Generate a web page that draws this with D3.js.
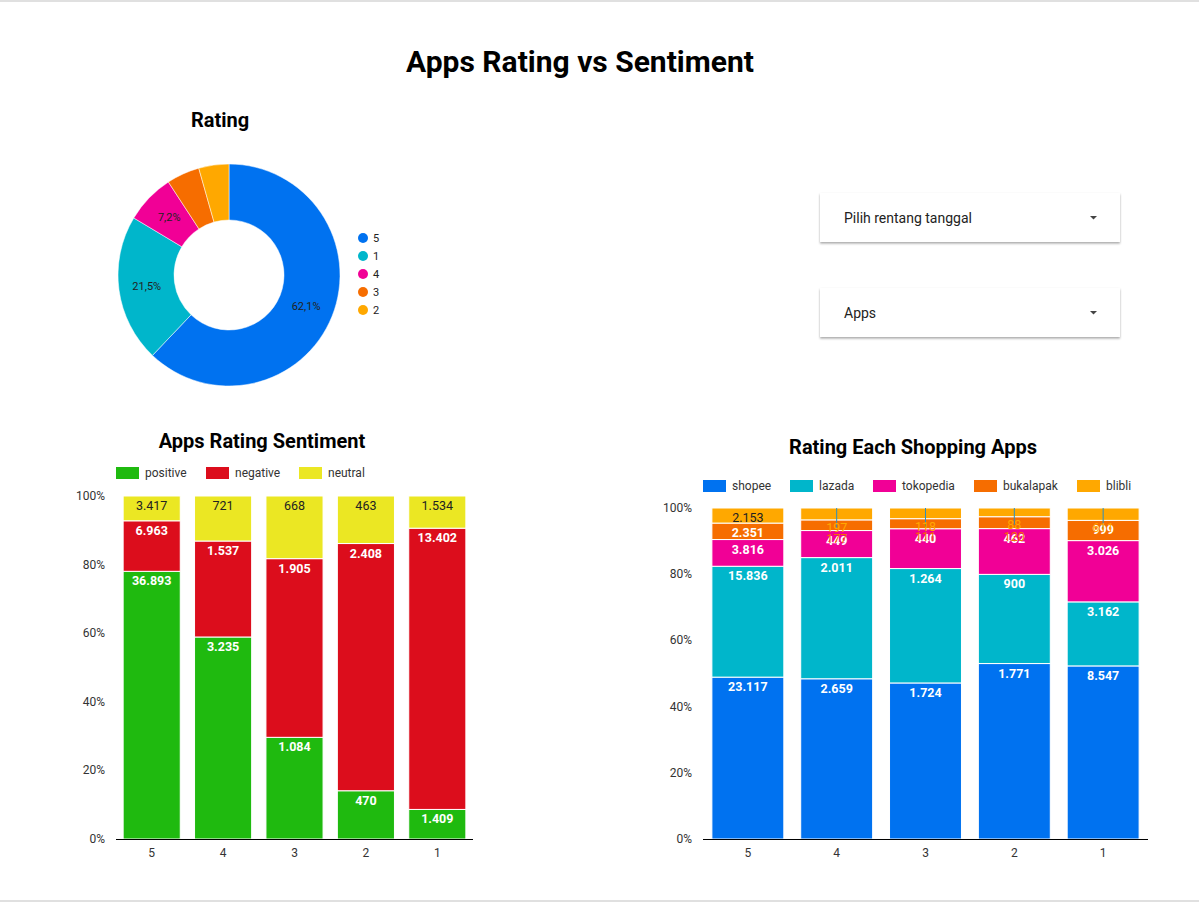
<!DOCTYPE html>
<html>
<head>
<meta charset="utf-8">
<script src="https://cdn.jsdelivr.net/npm/d3@7"></script>
<style>
  body { margin: 0; background: #fff; font-family: Roboto, "Noto Sans", sans-serif; }
  svg { display: block; }
</style>
</head>
<body>
<svg id="chart" width="1199" height="903"></svg>
<script>
// ratings on the x axis
const ratings = ["5", "4", "3", "2", "1"]

// donut (order as drawn)
const donutLabels = ["5", "1", "4", "3", "2"]
const donutValues = [47273, 16345, 5493, 3657, 3341]

// sentiment per rating
const sentimentKeys = ["positive", "negative", "neutral"]
const positive = [36893, 3235, 1084, 470, 1409]
const negative = [6963, 1537, 1905, 2408, 13402]
const neutral = [3417, 721, 668, 463, 1534]

// apps per rating
const appKeys = ["shopee", "lazada", "tokopedia", "bukalapak", "blibli"]
const shopee = [23117, 2659, 1724, 1771, 8547]
const lazada = [15836, 2011, 1264, 900, 3162]
const tokopedia = [3816, 449, 440, 462, 3026]
const bukalapak = [2351, 177, 111, 120, 999]
const blibli = [2153, 197, 118, 88, 611]

const pctTicks = [0, 0.2, 0.4, 0.6, 0.8, 1]

const svg = d3.select("#chart")
const loc = d3.formatLocale({decimal: ",", thousands: ".", grouping: [3], currency: ["", ""]})
const fmt = loc.format(",d")
const pctFmt = loc.format(".1%")

// page border lines
svg.append("rect").attr("x", 0).attr("y", 0).attr("width", 1199).attr("height", 2).attr("fill", "#e0e0e0")
svg.append("rect").attr("x", 0).attr("y", 900).attr("width", 1199).attr("height", 2).attr("fill", "#e0e0e0")

// main title
svg.append("text")
	.attr("x", 580).attr("y", 72)
	.attr("text-anchor", "middle")
	.attr("font-size", "30px").attr("font-weight", "bold")
	.attr("fill", "#000")
	.text("Apps Rating vs Sentiment")

// ---------- donut ----------
const donutColors = ["#0072f0", "#00b6cb", "#f10096", "#f66d00", "#ffa800"]
svg.append("text")
	.attr("x", 220).attr("y", 127)
	.attr("text-anchor", "middle")
	.attr("font-size", "20px").attr("font-weight", "bold")
	.text("Rating")

const outerR = 111, innerR = 55
const pie = d3.pie().sort(null)(donutValues)
const arc = d3.arc().innerRadius(innerR).outerRadius(outerR)
const labelArc = d3.arc().innerRadius(83).outerRadius(83)
const total = d3.sum(donutValues)

const dg = svg.append("g").attr("transform", "translate(229,275)")
dg.selectAll("path")
	.data(pie)
	.enter()
	.append("path")
	.attr("d", arc)
	.attr("fill", function(d, i){return donutColors[i]})
	.attr("stroke", "#fff").attr("stroke-width", 0.5)

dg.selectAll("text")
	.data(pie.filter(function(d){return d.value / total > 0.06}))
	.enter()
	.append("text")
	.attr("transform", function(d){
		const c = labelArc.centroid(d)
		return "translate(" + c[0] + "," + (c[1] + 4) + ")"
	})
	.attr("text-anchor", "middle")
	.attr("font-size", "11px")
	.attr("fill", "#222")
	.text(function(d){return pctFmt(d.value / total)})

const dl = svg.append("g").attr("transform", "translate(363,238)")
donutLabels.forEach(function(l, i){
	dl.append("circle").attr("cx", 0).attr("cy", i * 18).attr("r", 5).attr("fill", donutColors[i])
	dl.append("text").attr("x", 10).attr("y", i * 18 + 4).attr("font-size", "11px").attr("fill", "#222").text(l)
})

// ---------- dropdowns ----------
const dropdowns = [{label: "Pilih rentang tanggal", y: 193}, {label: "Apps", y: 288}]
const defs = svg.append("defs")
const f = defs.append("filter").attr("id", "shadow").attr("x", "-5%").attr("y", "-10%").attr("width", "110%").attr("height", "130%")
f.append("feDropShadow").attr("dx", 0).attr("dy", 1.5).attr("stdDeviation", 1.2).attr("flood-color", "#000").attr("flood-opacity", 0.35)
dropdowns.forEach(function(d){
	svg.append("rect").attr("x", 820).attr("y", d.y).attr("width", 300).attr("height", 49)
		.attr("fill", "#fff").attr("filter", "url(#shadow)")
	svg.append("text").attr("x", 844).attr("y", d.y + 30).attr("font-size", "14px").attr("fill", "#222").text(d.label)
	svg.append("path").attr("d", "M1090," + (d.y + 23) + "l3.5,3.5l3.5,-3.5z").attr("fill", "#444")
})

// ---------- stacked 100% bar helper ----------
function stackedChart(opts) {
	const g = svg.append("g")
	const x = d3.scaleBand().domain(ratings).range([opts.x0, opts.x1]).paddingInner(opts.padIn).paddingOuter(opts.padOut)
	const y = d3.scaleLinear().domain([0, 1]).range([opts.yBottom, opts.yTop])

	g.append("text")
		.attr("x", opts.titleX).attr("y", opts.titleY)
		.attr("text-anchor", "middle")
		.attr("font-size", "20px").attr("font-weight", "bold")
		.text(opts.title)

	// legend
	opts.keys.forEach(function(k, i){
		g.append("rect").attr("x", opts.legendX[i]).attr("y", opts.legendY - 6).attr("width", 23).attr("height", 12).attr("fill", opts.colors[i])
		g.append("text").attr("x", opts.legendX[i] + 29).attr("y", opts.legendY + 4).attr("font-size", "12px").attr("fill", "#333").text(k)
	})

	const rows = ratings.map(function(r, i){
		const row = {rating: r}
		opts.keys.forEach(function(k, j){ row[k] = opts.series[j][i] })
		return row
	})
	const stacked = d3.stack().keys(opts.keys).offset(d3.stackOffsetExpand)(rows)

	stacked.forEach(function(layer, j){
		g.selectAll(null)
			.data(layer)
			.enter()
			.append("rect")
			.attr("x", function(d){return x(d.data.rating)})
			.attr("width", x.bandwidth())
			.attr("y", function(d){return y(d[1])})
			.attr("height", function(d){return y(d[0]) - y(d[1])})
			.attr("fill", opts.colors[j])
			.attr("stroke", "#fff").attr("stroke-width", 1)
	})

	// labels
	stacked.forEach(function(layer, j){
		layer.forEach(function(d){
			const top = y(d[1]), h = y(d[0]) - y(d[1])
			const cx = x(d.data.rating) + x.bandwidth() / 2
			const val = d.data[opts.keys[j]]
			const dark = opts.darkText[j]
			let ty = top + 14, fill = dark ? "#222" : "#fff", weight = dark ? "normal" : "bold"
			if (h < 15 && opts.displace) {
				if (j == opts.keys.length - 1) {
					// pushed below with a leader line
					g.append("line").attr("x1", cx).attr("x2", cx).attr("y1", top).attr("y2", top + h + 8)
						.attr("stroke", "#2a8fc0").attr("stroke-width", 1)
				}
				ty = top + h + 12
				fill = opts.colors[j]
				weight = "normal"
			}
			g.append("text")
				.attr("x", cx).attr("y", ty)
				.attr("text-anchor", "middle")
				.attr("font-size", "12.5px")
				.attr("font-weight", weight)
				.attr("fill", fill)
				.text(fmt(val))
		})
	})

	// axes
	g.append("line").attr("x1", opts.x0).attr("x2", opts.x1).attr("y1", opts.yBottom + 0.5).attr("y2", opts.yBottom + 0.5)
		.attr("stroke", "#000").attr("stroke-width", 1)
	g.selectAll(null)
		.data(ratings)
		.enter()
		.append("text")
		.attr("x", function(d){return x(d) + x.bandwidth() / 2})
		.attr("y", opts.yBottom + 18)
		.attr("text-anchor", "middle")
		.attr("font-size", "12px").attr("fill", "#333")
		.text(function(d){return d})
	g.selectAll(null)
		.data(pctTicks)
		.enter()
		.append("text")
		.attr("x", opts.x0 - 11)
		.attr("y", function(d){return y(d) + 4})
		.attr("text-anchor", "end")
		.attr("font-size", "12px").attr("fill", "#333")
		.text(function(d){return Math.round(d * 100) + "%"})
}

stackedChart({
	title: "Apps Rating Sentiment", titleX: 262, titleY: 448,
	keys: sentimentKeys, series: [positive, negative, neutral],
	colors: ["#1fba0f", "#dc0d1c", "#ebe723"], darkText: [false, false, true],
	legendX: [116, 206, 299], legendY: 473,
	x0: 116, x1: 473, padIn: 0.2, padOut: 0.1,
	yTop: 496, yBottom: 839, displace: false
})

stackedChart({
	title: "Rating Each Shopping Apps", titleX: 913, titleY: 454,
	keys: appKeys, series: [shopee, lazada, tokopedia, bukalapak, blibli],
	colors: ["#0072f0", "#00b6cb", "#f10096", "#f66d00", "#ffa800"], darkText: [false, false, false, false, true],
	legendX: [703, 790, 873, 974, 1077], legendY: 486,
	x0: 703, x1: 1148, padIn: 0.19, padOut: 0.1,
	yTop: 508, yBottom: 839, displace: true
})
</script>
</body>
</html>
